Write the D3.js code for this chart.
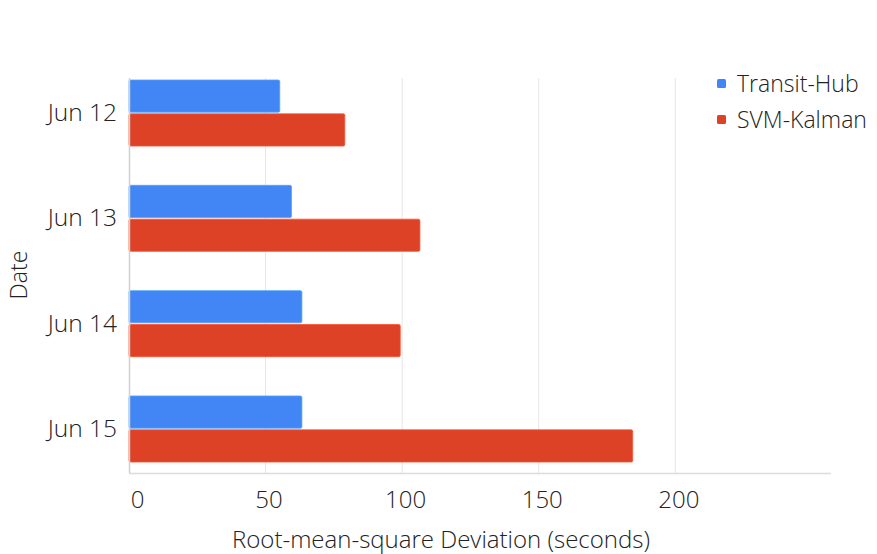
<!DOCTYPE html>
<html>
<head>
<meta charset="utf-8">
<script src="https://cdn.jsdelivr.net/npm/d3@7"></script>
<style>
  html, body { margin: 0; padding: 0; background: #fff; }
  svg { display: block; font-family: "Open Sans", sans-serif; }
</style>
</head>
<body>
<svg id="chart" width="877" height="554"></svg>
<script>
// Dates shown on the vertical axis
const dates = ["Jun 12", "Jun 13", "Jun 14", "Jun 15"];
// Series names and colours
const seriesNames = ["Transit-Hub", "SVM-Kalman"];
const seriesColors = ["#4285f4", "#dd4126"];
// RMSD values (seconds) per date
const transitHub = [55.2, 59.5, 63.3, 63.3];
const svmKalman = [79.0, 106.5, 99.3, 184.4];
// Horizontal axis ticks
const xTicks = [0, 50, 100, 150, 200];
const xMax = 257;

const rows = dates.map((d, i) => ({ date: d, values: [transitHub[i], svmKalman[i]] }));

const svg = d3.select("#chart");
const plot = { left: 129, right: 831, top: 78, bottom: 473 };

const x = d3.scaleLinear().domain([0, xMax]).range([plot.left, plot.right]);
const y = d3.scaleBand().domain(dates)
  .range([60.35, 481.65]).paddingInner(0.373).paddingOuter(0.1865);
const ySub = d3.scaleBand().domain(d3.range(seriesNames.length))
  .range([0, y.bandwidth()]).paddingInner(0.05);

// Vertical gridlines
svg.append("g").selectAll("line").data(xTicks.filter(t => t > 0)).join("line")
  .attr("x1", d => x(d)).attr("x2", d => x(d))
  .attr("y1", plot.top).attr("y2", plot.bottom)
  .attr("stroke", "#e6e6e6").attr("stroke-width", 1);

// Bars
const groups = svg.append("g").selectAll("g").data(rows).join("g")
  .attr("transform", d => `translate(0,${y(d.date)})`);
groups.selectAll("rect").data(d => d.values.map((v, i) => ({ v, i }))).join("rect")
  .attr("x", x(0))
  .attr("y", d => ySub(d.i))
  .attr("width", d => x(d.v) - x(0))
  .attr("height", ySub.bandwidth())
  .attr("rx", 1.5)
  .attr("fill", d => seriesColors[d.i])
  .attr("stroke", d => d3.color(seriesColors[d.i]).brighter(0.6))
  .attr("stroke-width", 0.8);

// Axis lines
svg.append("line")
  .attr("x1", plot.left).attr("x2", plot.right)
  .attr("y1", plot.bottom + 0.5).attr("y2", plot.bottom + 0.5)
  .attr("stroke", "#dcdcdc").attr("stroke-width", 1.5);
svg.append("line")
  .attr("x1", plot.left + 0.5).attr("x2", plot.left + 0.5)
  .attr("y1", plot.top).attr("y2", plot.bottom)
  .attr("stroke", "#d0d0d0").attr("stroke-width", 1.5);

// Bottom axis tick labels
const xAxis = d3.axisBottom(x).tickValues(xTicks).tickSize(0).tickPadding(0);
const gx = svg.append("g").attr("transform", `translate(0,${plot.bottom})`).call(xAxis);
gx.select(".domain").remove();
gx.selectAll("text")
  .attr("y", 35)
  .attr("dy", 0)
  .attr("dx", d => d === 0 ? 8 : 3)
  .attr("font-family", "Open Sans, sans-serif")
  .attr("font-size", 24)
  .attr("font-weight", 300)
  .attr("fill", "#222");

// Left axis labels
const yAxis = d3.axisLeft(y).tickSize(0).tickPadding(12);
const gy = svg.append("g").attr("transform", `translate(${plot.left},0)`).call(yAxis);
gy.select(".domain").remove();
gy.selectAll("text")
  .attr("font-family", "Open Sans, sans-serif")
  .attr("font-size", 24.5)
  .attr("font-weight", 300)
  .attr("fill", "#222");

// Axis titles
svg.append("text")
  .attr("x", 441).attr("y", 548)
  .attr("text-anchor", "middle")
  .attr("font-size", 24).attr("font-weight", 300).attr("fill", "#222")
  .text("Root-mean-square Deviation (seconds)");
svg.append("text")
  .attr("transform", "translate(27,275) rotate(-90)")
  .attr("text-anchor", "middle")
  .attr("font-size", 23).attr("font-weight", 300).attr("fill", "#222")
  .text("Date");

// Legend
const legend = svg.append("g").selectAll("g").data(seriesNames).join("g")
  .attr("transform", (d, i) => `translate(717,${84 + i * 36})`);
legend.append("rect")
  .attr("x", 0).attr("y", -5).attr("width", 9).attr("height", 9).attr("rx", 1.5)
  .attr("fill", (d, i) => seriesColors[i]);
legend.append("text")
  .attr("x", 20).attr("y", 8)
  .attr("font-size", 23).attr("font-weight", 300).attr("fill", "#222")
  .text(d => d);
</script>
</body>
</html>
